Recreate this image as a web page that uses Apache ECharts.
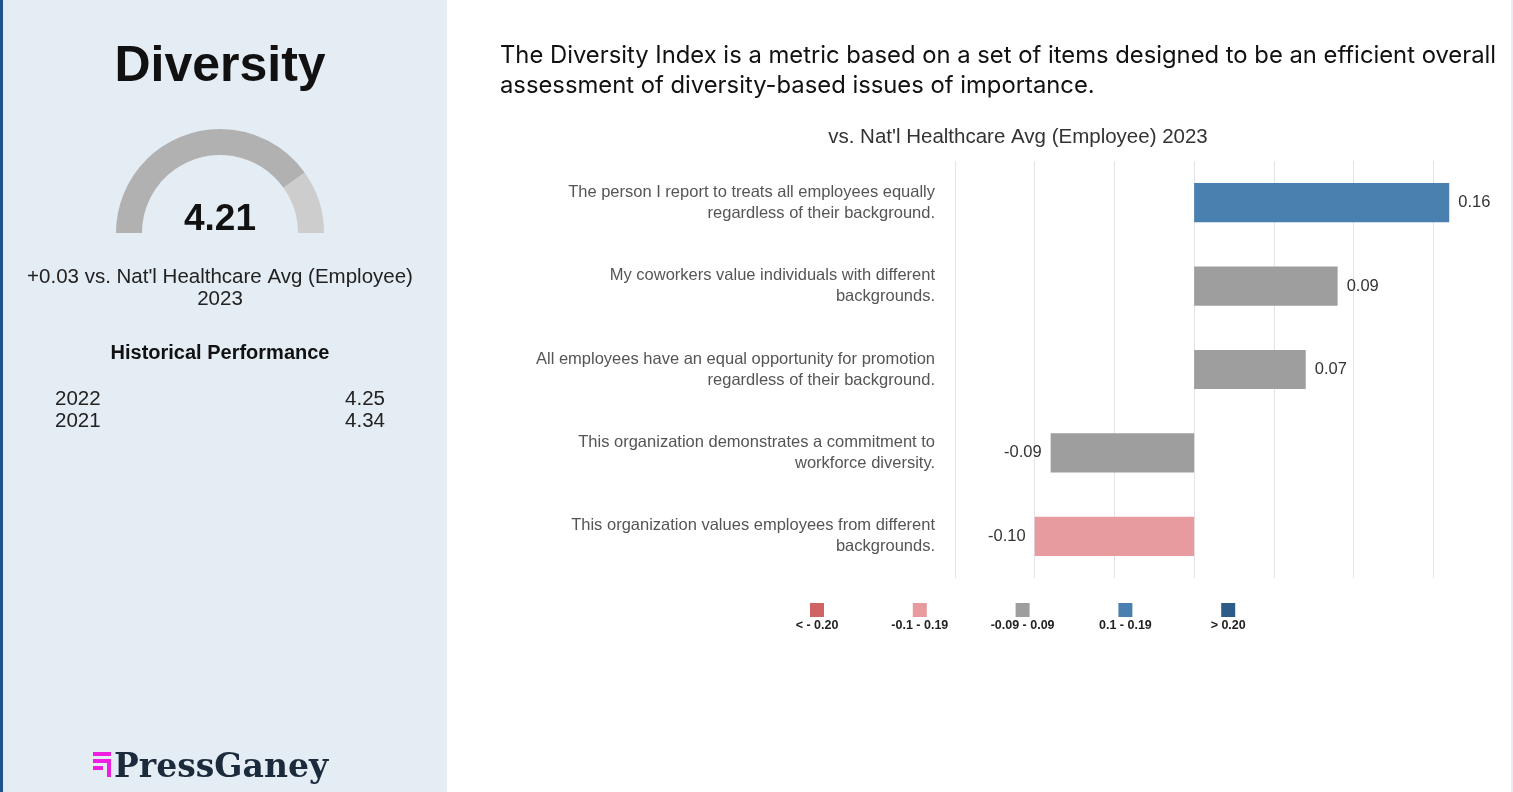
<!DOCTYPE html>
<html><head><meta charset="utf-8">
<script src="https://cdn.jsdelivr.net/npm/echarts@6/dist/echarts.min.js"></script>
<style>html,body{margin:0;padding:0;background:#fff;}#c{width:1513px;height:792px;}</style>
</head><body><div id="c"></div>
<script>
// ---- data ----
const categories = [
  "The person I report to treats all employees equally\nregardless of their background.",
  "My coworkers value individuals with different\nbackgrounds.",
  "All employees have an equal opportunity for promotion\nregardless of their background.",
  "This organization demonstrates a commitment to\nworkforce diversity.",
  "This organization values employees from different\nbackgrounds."
];
const diffs = [0.16, 0.09, 0.07, -0.09, -0.10];
const scoreValue = 4.21;
const scoreMin = 1, scoreMax = 5;
const histYears = ["2022", "2021"];
const histValues = ["4.25", "4.34"];
const legendLabels = ["< - 0.20", "-0.1 - 0.19", "-0.09 - 0.09", "0.1 - 0.19", "> 0.20"];
const legendColors = ["#d06464", "#e89b9e", "#9e9e9e", "#4a80b0", "#2d5c88"];

function colorFor(v){
  if (v <= -0.20) return legendColors[0];
  if (v <= -0.10) return legendColors[1];
  if (v < 0.10) return legendColors[2];
  if (v < 0.20) return legendColors[3];
  return legendColors[4];
}

const chart = echarts.init(document.getElementById('c'));
const FONT = '"Liberation Sans", Arial, sans-serif';
const split = (scoreValue - scoreMin) / (scoreMax - scoreMin);

const graphics = [
  {type:'rect', shape:{x:0,y:0,width:447,height:792}, style:{fill:'#e4ecf4'}, z:-10},
  {type:'rect', shape:{x:0,y:0,width:3,height:792}, style:{fill:'#1f5288'}, z:-9},
  {type:'rect', shape:{x:1511,y:0,width:2,height:792}, style:{fill:'#e8eef4'}, z:-9},
  {type:'text', x:220, y:67, style:{text:'Diversity', font:'bold 50px '+FONT, fill:'#111', align:'center', verticalAlign:'middle'}},
  {type:'text', x:220, y:277, style:{text:"+0.03 vs. Nat'l Healthcare Avg (Employee)", font:'20.5px '+FONT, fill:'#222', align:'center', verticalAlign:'middle'}},
  {type:'text', x:220, y:299, style:{text:'2023', font:'20.5px '+FONT, fill:'#222', align:'center', verticalAlign:'middle'}},
  {type:'text', x:220, y:353, style:{text:'Historical Performance', font:'bold 20px '+FONT, fill:'#111', align:'center', verticalAlign:'middle'}},
  {type:'text', x:500, y:56, style:{text:'The Diversity Index is a metric based on a set of items designed to be an efficient overall', font:'23.8px Inter, '+FONT, fill:'#111', align:'left', verticalAlign:'middle'}},
  {type:'text', x:500, y:86, style:{text:'assessment of diversity-based issues of importance.', font:'23.8px Inter, '+FONT, fill:'#111', align:'left', verticalAlign:'middle'}},
  {type:'text', x:1018, y:137, style:{text:"vs. Nat'l Healthcare Avg (Employee) 2023", font:'20.5px '+FONT, fill:'#333', align:'center', verticalAlign:'middle'}},
  // logo
  {type:'rect', shape:{x:93,y:752,width:18,height:4}, style:{fill:'#f01ee0'}},
  {type:'rect', shape:{x:93,y:759,width:18,height:4}, style:{fill:'#f01ee0'}},
  {type:'rect', shape:{x:107,y:759,width:4,height:18}, style:{fill:'#f01ee0'}},
  {type:'rect', shape:{x:93,y:766,width:10,height:4}, style:{fill:'#f01ee0'}},
  {type:'text', x:114, y:768, style:{text:'PressGaney', font:'bold 33px "DejaVu Serif", "Liberation Serif", serif', fill:'#1c2b3c', align:'left', verticalAlign:'middle'}}
];
histYears.forEach((y,i)=>{
  graphics.push({type:'text', x:55, y:399+i*22, style:{text:y, font:'20.5px '+FONT, fill:'#222', align:'left', verticalAlign:'middle'}});
  graphics.push({type:'text', x:385, y:399+i*22, style:{text:histValues[i], font:'20.5px '+FONT, fill:'#222', align:'right', verticalAlign:'middle'}});
});
legendLabels.forEach((l,i)=>{
  const cx = 817 + i*102.8;
  graphics.push({type:'rect', shape:{x:cx-7,y:603,width:14,height:14}, style:{fill:legendColors[i]}});
  graphics.push({type:'text', x:cx, y:626, style:{text:l, font:'bold 12.5px '+FONT, fill:'#222', align:'center', verticalAlign:'middle'}});
});

chart.setOption({
  animation:false,
  backgroundColor:'#ffffff',
  graphic: graphics,
  grid:{left:955, top:161, width:560, height:417, containLabel:false},
  xAxis:{type:'value', min:-0.15, max:0.20, interval:0.05,
    axisLabel:{show:false}, axisLine:{show:false}, axisTick:{show:false},
    splitLine:{show:true, lineStyle:{color:'#e3e3ec', width:1}}},
  yAxis:{type:'category', data:categories, inverse:true,
    axisLine:{show:false}, axisTick:{show:false}, splitLine:{show:false},
    axisLabel:{margin:20, align:'right', color:'#555', fontSize:16.5, fontFamily:FONT, lineHeight:21, padding:[3,0,0,0]}},
  series:[
    {type:'bar', barWidth:'47%',
      data: diffs.map(v=>({value:v, itemStyle:{color:colorFor(v)}, label:{position: v>=0?'right':'left'}})),
      label:{show:true, color:'#333', fontSize:16.5, fontFamily:FONT, distance:9,
        formatter:p=>p.value.toFixed(2)}},
    {type:'gauge', center:[220,233], radius:104, startAngle:180, endAngle:0,
      min:scoreMin, max:scoreMax,
      axisLine:{lineStyle:{width:26, color:[[split,'#b1b1b1'],[1,'#cdcdcd']]}},
      pointer:{show:false}, progress:{show:false}, axisTick:{show:false}, splitLine:{show:false}, axisLabel:{show:false},
      anchor:{show:false}, title:{show:false},
      detail:{offsetCenter:[0,-13], fontSize:37, fontWeight:'bold', color:'#111', fontFamily:FONT, formatter:v=>v.toFixed(2)},
      data:[{value:scoreValue}]}
  ]
});
</script></body></html>
